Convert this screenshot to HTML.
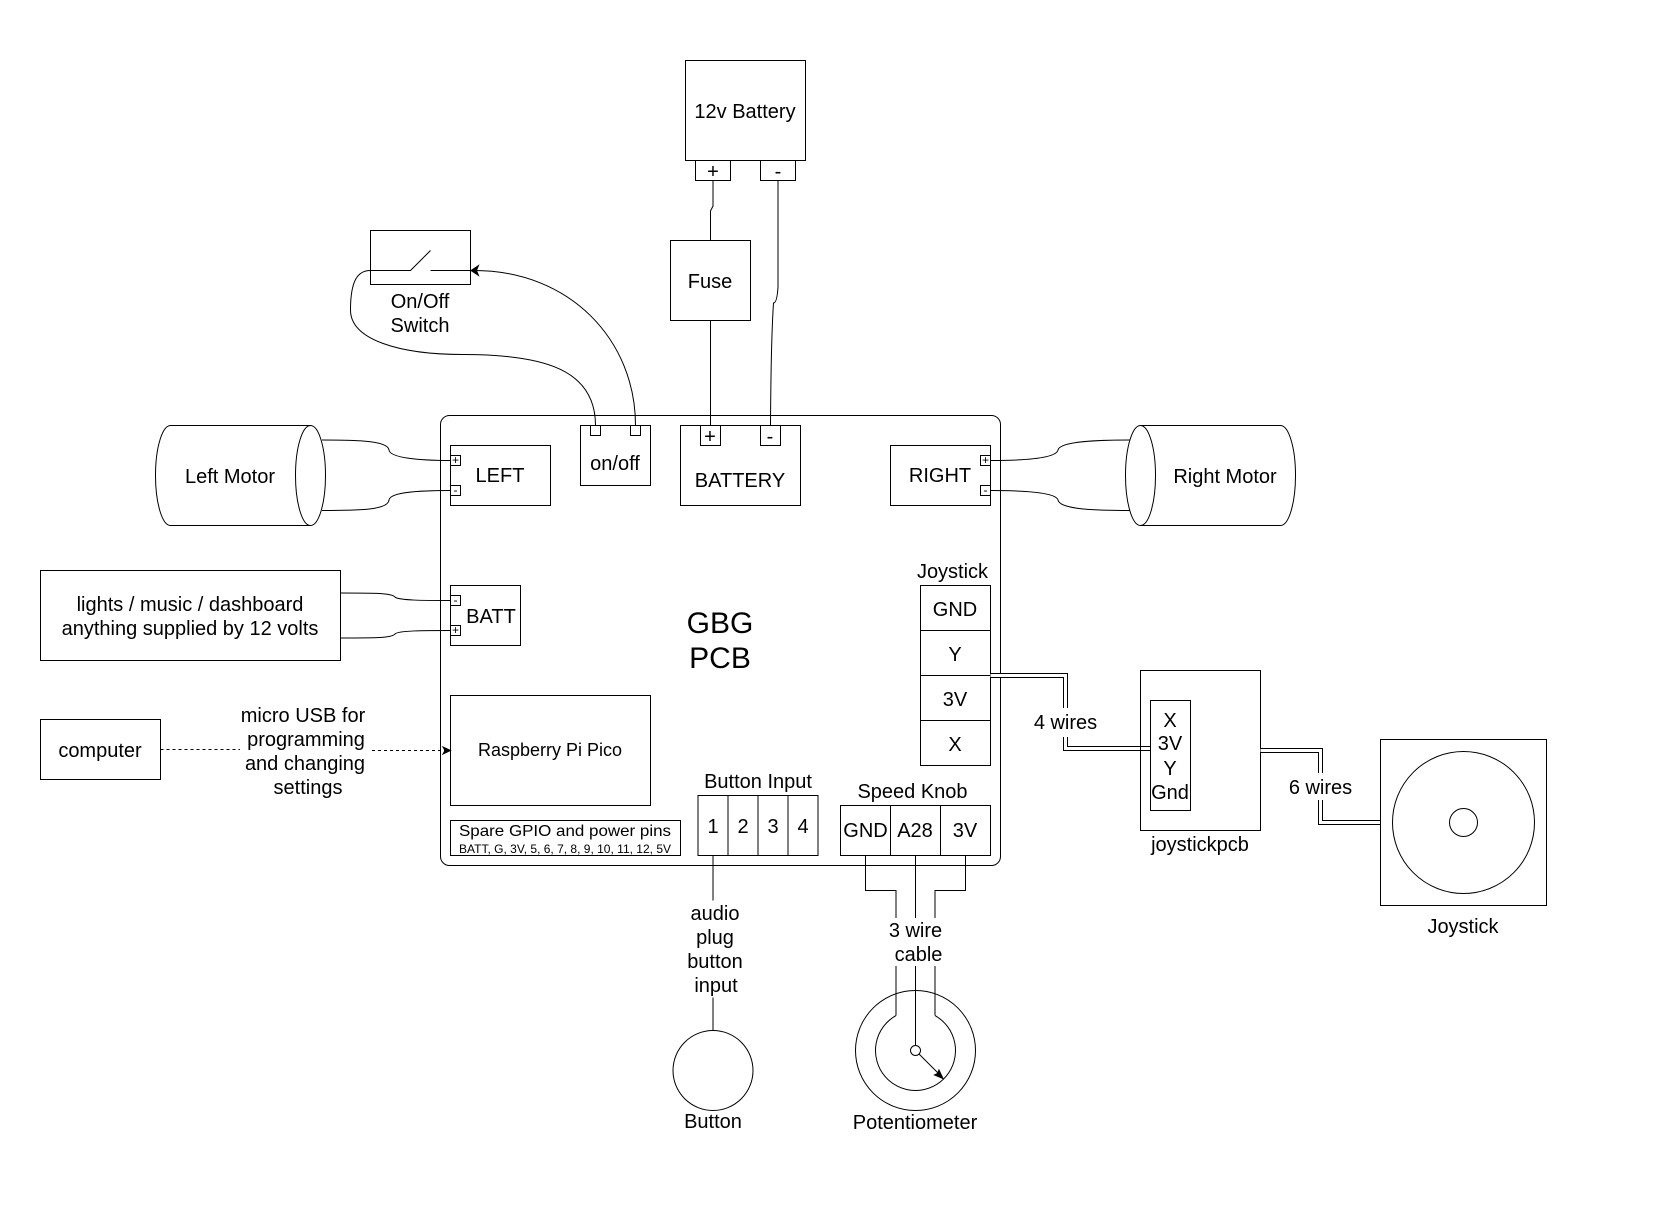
<!DOCTYPE html>
<html><head><meta charset="utf-8"><style>
html,body{margin:0;padding:0;background:#fff;width:1660px;height:1221px;overflow:hidden}
svg{display:block}
text{font-family:"Liberation Sans",Arial,sans-serif;font-size:20px;text-anchor:middle;fill:#000}
.s{fill:none;stroke:#000;stroke-width:1}
.w{fill:#fff;stroke:#000;stroke-width:1}
.sm{font-size:12px}
</style></head><body>
<svg width="1660" height="1221" viewBox="0 0 1660 1221" xmlns="http://www.w3.org/2000/svg">
<rect width="1660" height="1221" fill="#fff"/>
<!-- board -->
<rect class="s" x="440.5" y="415.5" width="560" height="450" rx="9" ry="9"/>
<!-- top battery -->
<rect class="s" x="685.5" y="60.5" width="120" height="100"/>
<rect class="s" x="695.5" y="160.5" width="35" height="20"/>
<rect class="s" x="760.5" y="160.5" width="35" height="20"/>
<text x="745" y="118">12v Battery</text>
<text x="713" y="178">+</text><text x="778" y="178">-</text>
<path class="s" d="M713 180.5V206L710.5 211V240.5"/>
<path class="s" d="M778 180.5V287Q777 303 773.5 303Q771 340 770.5 425.5"/>
<rect class="s" x="670.5" y="240.5" width="80" height="80"/>
<text x="710" y="288">Fuse</text>
<path class="s" d="M710.5 320.5V425.5"/>
<!-- switch -->
<rect class="s" x="370.5" y="230.5" width="100" height="54"/>
<path class="s" d="M370.5 270.5H410.5L430.5 250.5M430.5 270.5H470.5"/>
<text x="420" y="308">On/Off</text><text x="420" y="332">Switch</text>
<path class="s" d="M595.5 425.5C595.5 370 545 354.5 463 354.5C400 354.5 350.5 340 350.5 310C350.5 280 358 270.5 370.5 270.5"/>
<path class="s" d="M635.5 425.5C635.5 340 570 270.5 474 270.5"/>
<path d="M471 270.5L478.5 265.5L476.5 270.5L478.5 275.5Z" fill="#000" stroke="#000"/>
<!-- on/off -->
<rect class="s" x="580.5" y="425.5" width="70" height="60"/>
<rect class="s" x="590.5" y="425.5" width="10" height="10"/>
<rect class="s" x="630.5" y="425.5" width="10" height="10"/>
<text x="615" y="470">on/off</text>
<!-- BATTERY -->
<rect class="s" x="680.5" y="425.5" width="120" height="80"/>
<rect class="s" x="700.5" y="425.5" width="20" height="20"/>
<rect class="s" x="760.5" y="425.5" width="20" height="20"/>
<text x="710" y="443">+</text><text x="770" y="443">-</text>
<text x="740" y="487">BATTERY</text>
<!-- LEFT -->
<rect class="s" x="450.5" y="445.5" width="100" height="60"/>
<rect class="s" x="450.5" y="455.5" width="10" height="10"/>
<rect class="s" x="450.5" y="485.5" width="10" height="10"/>
<text class="sm" x="455.5" y="464">+</text><text class="sm" x="455.5" y="494">-</text>
<text x="500" y="482">LEFT</text>
<!-- left motor -->
<path class="s" d="M310.5 425.5H170.5A15 50 0 0 0 170.5 525.5H310.5"/>
<ellipse class="s" cx="310.5" cy="475.5" rx="15" ry="50"/>
<text x="230" y="483">Left Motor</text>
<path class="s" d="M322 440C360 440 388 441 389 450C390 458 420 460.5 450.5 460.5"/>
<path class="s" d="M322 510.5C360 510.5 388 510 389 500C390 492 420 490.5 450.5 490.5"/>
<!-- RIGHT -->
<rect class="s" x="890.5" y="445.5" width="100" height="60"/>
<rect class="s" x="980.5" y="455.5" width="10" height="10"/>
<rect class="s" x="980.5" y="485.5" width="10" height="10"/>
<text class="sm" x="985.5" y="464">+</text><text class="sm" x="985.5" y="494">-</text>
<text x="940" y="482">RIGHT</text>
<!-- right motor -->
<path class="s" d="M1140.5 425.5H1280.5A15 50 0 0 1 1280.5 525.5H1140.5"/>
<ellipse class="s" cx="1140.5" cy="475.5" rx="15" ry="50"/>
<text x="1225" y="483">Right Motor</text>
<path class="s" d="M990.5 460.5C1020 460.5 1056 459 1058 450C1060 441 1100 440 1130 440"/>
<path class="s" d="M990.5 490.5C1020 490.5 1056 492 1058 500C1060 510 1100 510.5 1130 510.5"/>
<!-- lights -->
<rect class="s" x="40.5" y="570.5" width="300" height="90"/>
<text x="190" y="611">lights / music / dashboard</text>
<text x="190" y="635">anything supplied by 12 volts</text>
<path class="s" d="M340.5 593C375 593 392 593 395 597C398 600.5 425 600.5 450.5 600.5"/>
<path class="s" d="M340.5 638C375 638 392 638 395 634C398 630.5 425 630.5 450.5 630.5"/>
<rect class="s" x="450.5" y="585.5" width="70" height="60"/>
<rect class="s" x="450.5" y="595.5" width="10" height="10"/>
<rect class="s" x="450.5" y="625.5" width="10" height="10"/>
<text class="sm" x="455.5" y="604">-</text><text class="sm" x="455.5" y="634">+</text>
<text x="491" y="623">BATT</text>
<!-- GBG -->
<text x="720" y="633" style="font-size:30px">GBG</text>
<text x="720" y="668" style="font-size:30px">PCB</text>
<!-- computer -->
<rect class="s" x="40.5" y="719.5" width="120" height="60"/>
<text x="100" y="757">computer</text>
<path class="s" stroke-dasharray="3 3" d="M160.5 749.5H240"/>
<path class="s" stroke-dasharray="3 3" d="M372 750.5H445"/>
<path d="M450.5 750.5L443 747L445 750.5L443 754Z" fill="#000" stroke="#000"/>
<text x="303" y="722">micro USB for</text>
<text x="306" y="746">programming</text>
<text x="305" y="770">and changing</text>
<text x="308" y="794">settings</text>
<!-- pico -->
<rect class="s" x="450.5" y="695.5" width="200" height="110"/>
<text x="550" y="756" style="font-size:18px">Raspberry Pi Pico</text>
<rect class="s" x="450.5" y="820.5" width="230" height="35"/>
<text x="565" y="836" style="font-size:16px" textLength="212" lengthAdjust="spacingAndGlyphs">Spare GPIO and power pins</text>
<text x="565" y="853" style="font-size:12px" textLength="212" lengthAdjust="spacingAndGlyphs">BATT, G, 3V, 5, 6, 7, 8, 9, 10, 11, 12, 5V</text>
<!-- button input -->
<rect class="s" x="698" y="795.5" width="120" height="60"/>
<path class="s" d="M728 795.5V855.5M758 795.5V855.5M788 795.5V855.5"/>
<text x="713" y="833">1</text><text x="743" y="833">2</text><text x="773" y="833">3</text><text x="803" y="833">4</text>
<text x="758" y="788">Button Input</text>
<path class="s" d="M713 855.5V900.5M713 997.5V1030.5"/>
<text x="715" y="920">audio</text><text x="715" y="944">plug</text><text x="715" y="968">button</text><text x="716" y="992">input</text>
<circle class="s" cx="713" cy="1070.5" r="40"/>
<text x="713" y="1128">Button</text>
<!-- speed knob -->
<rect class="s" x="840.5" y="805.5" width="150" height="50"/>
<path class="s" d="M890.5 805.5V855.5M940.5 805.5V855.5"/>
<text x="912.5" y="798">Speed Knob</text>
<text x="865.5" y="837">GND</text><text x="915" y="837">A28</text><text x="965" y="837">3V</text>
<path class="s" d="M865.5 855.5V890.5H896V918M896 966V1015.5"/>
<path class="s" d="M965.5 855.5V890.5H935V918M935 966V1015.5"/>
<path class="s" d="M915.5 855.5V918M915.5 966V1045.5"/>
<text x="915.5" y="937">3 wire</text><text x="918.5" y="961">cable</text>
<circle class="s" cx="915.5" cy="1050.5" r="60"/>
<path class="s" d="M896 1015.6A40 40 0 1 0 935 1015.6"/>
<circle class="w" cx="915.5" cy="1050.5" r="5"/>
<path class="s" d="M919 1054L940 1075"/>
<path d="M943 1078.5L934.5 1075L937.5 1073.5L939 1070Z" fill="#000" stroke="#000"/>
<text x="915" y="1129">Potentiometer</text>
<!-- joystick table -->
<text x="952.5" y="578">Joystick</text>
<rect class="s" x="920.5" y="585.5" width="70" height="180"/>
<path class="s" d="M920.5 630.5H990.5M920.5 675.5H990.5M920.5 720.5H990.5"/>
<text x="955" y="616">GND</text><text x="955" y="661">Y</text><text x="955" y="706">3V</text><text x="955" y="751">X</text>
<!-- double wires -->
<path d="M990.5 675.5H1065.5V748.5H1150.5" fill="none" stroke="#000" stroke-width="5"/>
<path d="M990.5 675.5H1065.5V748.5H1150.5" fill="none" stroke="#fff" stroke-width="3"/>
<rect x="1032" y="708" width="67" height="29" fill="#fff"/>
<text x="1065.5" y="729">4 wires</text>
<rect class="s" x="1140.5" y="670.5" width="120" height="160" fill="none"/>
<rect class="w" x="1150.5" y="700.5" width="40" height="110"/>
<text x="1170" y="727">X</text><text x="1170" y="750">3V</text><text x="1170" y="775">Y</text><text x="1170" y="799">Gnd</text>
<text x="1200" y="851">joystickpcb</text>
<path d="M1260.5 750.5H1320.5V822.5H1380.5" fill="none" stroke="#000" stroke-width="5"/>
<path d="M1260.5 750.5H1320.5V822.5H1380.5" fill="none" stroke="#fff" stroke-width="3"/>
<rect x="1287" y="773" width="67" height="27" fill="#fff"/>
<text x="1320.5" y="794">6 wires</text>
<rect class="w" x="1380.5" y="739.5" width="166" height="166"/>
<circle class="s" cx="1463.5" cy="822.5" r="71"/>
<circle class="s" cx="1463.5" cy="822.5" r="14"/>
<text x="1463" y="933">Joystick</text>
</svg>
</body></html>
